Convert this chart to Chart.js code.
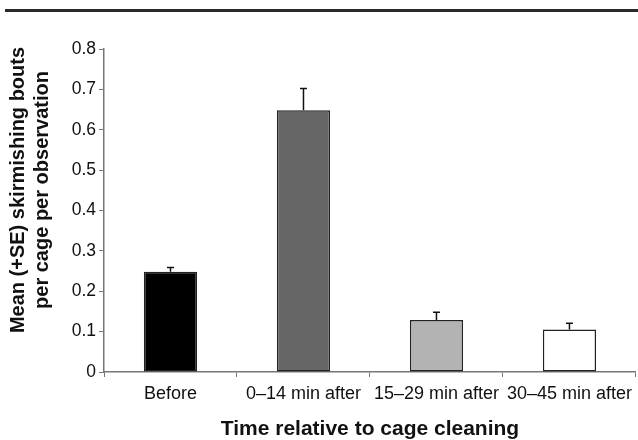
<!DOCTYPE html>
<html>
<head>
<meta charset="utf-8">
<script src="https://cdn.jsdelivr.net/npm/chart.js@4"></script>
<style>
  html, body { margin: 0; padding: 0; background: #fff; }
  #wrap { width: 638px; height: 440px; position: relative; }
</style>
</head>
<body>
<div id="wrap"><canvas id="chart" width="638" height="440"></canvas></div>
<script>
const ctx = document.getElementById('chart').getContext('2d');

// Data
const categories = ['Before', '0\u201314 min after', '15\u201329 min after', '30\u201345 min after'];
const means = [0.248, 0.648, 0.129, 0.105];
const errors = [0.011, 0.054, 0.019, 0.016];
const yTicks = [0, 0.1, 0.2, 0.3, 0.4, 0.5, 0.6, 0.7, 0.8];
const yTitle = ['Mean (+SE) skirmishing bouts', 'per cage per observation'];

const FONT = '"Liberation Sans", Arial, sans-serif';
const barColors = ['#000000', '#666666', '#b3b3b3', '#ffffff'];

// top rule across the page
const topRule = {
  id: 'topRule',
  beforeDraw(chart) {
    const c = chart.ctx;
    c.save();
    c.fillStyle = '#2a2a2a';
    c.fillRect(5, 9, chart.width - 5, 3);
    c.restore();
  }
};

// y title sits a little above the axis middle in the original
const yTitlePlugin = {
  id: 'yTitle',
  afterDraw(chart) {
    const c = chart.ctx;
    c.save();
    c.translate(0, 190);
    c.rotate(-Math.PI / 2);
    c.fillStyle = '#111';
    c.font = 'bold 20px ' + FONT;
    c.textAlign = 'center';
    c.textBaseline = 'middle';
    c.fillText(yTitle[0], 0, 18);
    c.fillText(yTitle[1], 0, 42);
    c.restore();
  }
};

// +SE whiskers
const errorBars = {
  id: 'errorBars',
  afterDatasetsDraw(chart) {
    const c = chart.ctx;
    const meta = chart.getDatasetMeta(0);
    const y = chart.scales.y;
    c.save();
    c.strokeStyle = '#111';
    c.lineWidth = 1.5;
    meta.data.forEach((bar, i) => {
      const top = y.getPixelForValue(means[i] + errors[i]);
      c.beginPath();
      c.moveTo(bar.x, bar.y);
      c.lineTo(bar.x, top);
      c.moveTo(bar.x - 3.5, top);
      c.lineTo(bar.x + 3.5, top);
      c.stroke();
    });
    c.restore();
  }
};

new Chart(ctx, {
  type: 'bar',
  data: {
    labels: categories,
    datasets: [{
      data: means,
      backgroundColor: barColors,
      borderColor: '#222',
      borderWidth: 1.5,
      borderSkipped: false,
      barPercentage: 0.40,
      categoryPercentage: 1
    }]
  },
  options: {
    responsive: false,
    animation: false,
    layout: { padding: { top: 49, right: 0, left: 0, bottom: 0 } },
    plugins: { legend: { display: false }, tooltip: { enabled: false } },
    scales: {
      x: {
        grid: { offset: true, drawOnChartArea: false, drawTicks: true, tickLength: 5, color: '#777' },
        border: { display: true, color: '#777', width: 1.5 },
        ticks: { color: '#111', font: { family: FONT, size: 18 }, padding: 6, maxRotation: 0 },
        title: {
          display: true,
          text: 'Time relative to cage cleaning',
          color: '#111',
          font: { family: FONT, size: 21, weight: 'bold', lineHeight: 1.0 },
          padding: { top: 0, bottom: 0 }
        },
        afterFit(scale) { scale.height = 68; }
      },
      y: {
        min: 0,
        max: 0.8,
        afterBuildTicks(scale) { scale.ticks = yTicks.map(v => ({ value: v })); },
        grid: { drawOnChartArea: false, drawTicks: true, tickLength: 5, color: '#777' },
        border: { display: true, color: '#777', width: 1.5 },
        ticks: { color: '#111', font: { family: FONT, size: 17.5 }, padding: 3 },
        title: { display: false },
        afterFit(scale) { scale.width = 104; }
      }
    }
  },
  plugins: [topRule, yTitlePlugin, errorBars]
});
</script>
</body>
</html>
